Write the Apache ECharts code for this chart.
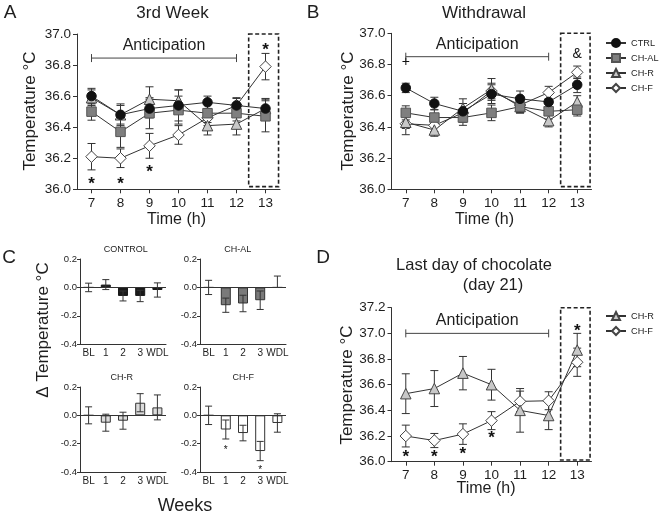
<!DOCTYPE html>
<html><head><meta charset="utf-8">
<script src="https://cdn.jsdelivr.net/npm/echarts@6/dist/echarts.min.js"></script>
<style>html,body{margin:0;padding:0;background:#fff}#c{width:659px;height:516px}</style>
</head><body><div id="c"></div>
<script>
// ---------------- DATA ----------------
const hours = [7, 8, 9, 10, 11, 12, 13];
const groupNames = ['CTRL', 'CH-AL', 'CH-R', 'CH-F'];
const anticipationLabel = 'Anticipation';
const anticipationRange = [7, 12];

// Panel A: 3rd Week (mean, SEM)
const a_CTRL = [36.60, 36.48, 36.52, 36.54, 36.56, 36.54, 36.52];
const a_CTRL_sem = [0.05, 0.07, 0.06, 0.10, 0.04, 0.045, 0.065];
const a_CHAL = [36.50, 36.37, 36.49, 36.51, 36.49, 36.49, 36.47];
const a_CHAL_sem = [0.055, 0.10, 0.10, 0.09, 0.06, 0.05, 0.10];
const a_CHR = [36.59, 36.48, 36.58, 36.57, 36.41, 36.42, 36.52];
const a_CHR_sem = [0.05, 0.06, 0.08, 0.07, 0.06, 0.07, 0.06];
const a_CHF = [36.21, 36.20, 36.28, 36.35, 36.46, 36.54, 36.79];
const a_CHF_sem = [0.085, 0.06, 0.08, 0.06, 0.05, 0.05, 0.085];
const a_notes = [[7, 36.06, '*'], [8, 36.06, '*'], [9, 36.135, '*'], [13, 36.92, '*']];

// Panel B: Withdrawal
const b_CTRL = [36.65, 36.55, 36.50, 36.61, 36.58, 36.56, 36.67];
const b_CTRL_sem = [0.03, 0.04, 0.05, 0.06, 0.05, 0.05, 0.05];
const b_CHAL = [36.49, 36.46, 36.46, 36.49, 36.53, 36.50, 36.51];
const b_CHAL_sem = [0.045, 0.05, 0.05, 0.05, 0.04, 0.05, 0.04];
const b_CHR = [36.43, 36.38, 36.52, 36.64, 36.53, 36.44, 36.56];
const b_CHR_sem = [0.04, 0.04, 0.06, 0.07, 0.04, 0.04, 0.04];
const b_CHF = [36.42, 36.41, 36.49, 36.63, 36.54, 36.62, 36.75];
const b_CHF_sem = [0.07, 0.04, 0.06, 0.05, 0.05, 0.04, 0.04];
const b_notes = [[7, 36.815, '+'], [13, 36.865, '&']];

// Panel C: delta temperature by week
const weeks = ['BL', '1', '2', '3', 'WDL'];
const c_CONTROL = [0, 0.02, -0.06, -0.06, -0.018];
const c_CONTROL_hi = [0.03, 0.035, 0.035, 0.04, 0.05];
const c_CONTROL_lo = [0.03, 0.035, 0.035, 0.04, 0.05];
const c_CHAL = [0, -0.125, -0.113, -0.09, 0];
const c_CHAL_hi = [0.05, 0.05, 0.058, 0.065, 0.08];
const c_CHAL_lo = [0.05, 0.05, 0.058, 0.065, 0];
const c_CHR = [0, -0.052, -0.038, 0.089, 0.056];
const c_CHR_hi = [0.06, 0.06, 0.06, 0.064, 0.088];
const c_CHR_lo = [0.06, 0.06, 0.06, 0.064, 0.088];
const c_CHF = [0, -0.1, -0.125, -0.252, -0.054];
const c_CHF_hi = [0.065, 0.067, 0.055, 0.068, 0.065];
const c_CHF_lo = [0.065, 0.067, 0.055, 0.068, 0.065];
const c_CHF_notes = [[1, -0.23, '*'], [3, -0.37, '*']];
const c_titles = ['CONTROL', 'CH-AL', 'CH-R', 'CH-F'];

// Panel D: Last day of chocolate (day 21)
const d_CHR = [36.53, 36.57, 36.69, 36.60, 36.40, 36.36, 36.87];
const d_CHR_sem = [0.155, 0.14, 0.13, 0.12, 0.17, 0.11, 0.13];
const d_CHF = [36.20, 36.165, 36.215, 36.32, 36.47, 36.475, 36.775];
const d_CHF_sem = [0.085, 0.055, 0.08, 0.07, 0.08, 0.07, 0.11];
const d_notes = [[7, 36.065, '*'], [8, 36.065, '*'], [9, 36.085, '*'], [10, 36.21, '*'], [13, 37.05, '*']];

// ---------------- STYLE ----------------
const FF = '"Liberation Sans", Arial, Helvetica, sans-serif';
const AX = '#333';
const TXT = '#1e1e1e';
const markerStyle = {
  'CTRL': {symbol: 'circle', size: 9.5, fill: '#111', border: '#111'},
  'CH-AL': {symbol: 'rect', size: 9.5, fill: '#7f7f7f', border: '#555'},
  'CH-R': {symbol: 'triangle', size: 10.5, fill: '#c8c8c8', border: '#444'},
  'CH-F': {symbol: 'diamond', size: 11.5, fill: '#ffffff', border: '#444'}
};

function fmt1(v) { return (Math.abs(v) < 1e-9 ? 0 : v).toFixed(1); }

function timeX(gi) {
  return {gridIndex: gi, type: 'value', min: 6.5, max: 13.5,
    axisLine: {onZero: false, lineStyle: {color: AX, width: 1}},
    axisTick: {length: 4, customValues: hours, lineStyle: {color: AX}},
    axisLabel: {customValues: hours, fontSize: 13.5, color: TXT, margin: 7, fontFamily: FF},
    splitLine: {show: false}};
}
function tempY(gi, max) {
  return {gridIndex: gi, type: 'value', min: 36, max: max, interval: 0.2,
    axisLine: {show: true, onZero: false, lineStyle: {color: AX, width: 1}},
    axisTick: {show: true, length: 4, lineStyle: {color: AX}},
    axisLabel: {fontSize: 13.5, color: TXT, margin: 6, fontFamily: FF, formatter: fmt1},
    splitLine: {show: false}};
}
function weekX(gi) {
  return {gridIndex: gi, type: 'category', data: weeks,
    axisLine: {onZero: false, lineStyle: {color: AX, width: 1}},
    axisTick: {show: false},
    axisLabel: {fontSize: 10, color: TXT, margin: 4, fontFamily: FF, interval: 0},
    splitLine: {show: false}};
}
function deltaY(gi) {
  return {gridIndex: gi, type: 'value', min: -0.4, max: 0.2, interval: 0.2,
    axisLine: {show: true, onZero: false, lineStyle: {color: AX, width: 1}},
    axisTick: {show: true, length: 3, lineStyle: {color: AX}},
    axisLabel: {fontSize: 9.5, color: TXT, margin: 3, fontFamily: FF, formatter: fmt1},
    splitLine: {show: false}};
}

function errRenderer(cap) {
  return function (params, api) {
    const x = api.value(0), lo = api.value(1), hi = api.value(2);
    const t = api.coord([x, hi]), b = api.coord([x, lo]);
    const st = {stroke: '#333', lineWidth: 1, fill: null};
    const ch = [{type: 'line', shape: {x1: t[0], y1: t[1], x2: b[0], y2: b[1]}, style: st},
      {type: 'line', shape: {x1: t[0] - cap, y1: t[1], x2: t[0] + cap, y2: t[1]}, style: st}];
    if (api.value(3) !== 0) ch.push({type: 'line', shape: {x1: b[0] - cap, y1: b[1], x2: b[0] + cap, y2: b[1]}, style: st});
    return {type: 'group', children: ch};
  };
}
function errSeries(gi, vals, sems, cap) {
  return {type: 'custom', xAxisIndex: gi, yAxisIndex: gi, silent: true, z: 2, animation: false,
    renderItem: errRenderer(cap),
    data: vals.map((v, i) => [hours[i], v - sems[i], v + sems[i], 1])};
}
function barErrSeries(gi, vals, hi, lo) {
  return {type: 'custom', xAxisIndex: gi, yAxisIndex: gi, silent: true, z: 4, animation: false,
    renderItem: errRenderer(3.5),
    data: vals.map((v, i) => [i, v - lo[i], v + hi[i], lo[i]])};
}
function lineSeries(name, gi, vals, extra) {
  const s = markerStyle[name];
  return Object.assign({type: 'line', name: name, xAxisIndex: gi, yAxisIndex: gi,
    data: vals.map((v, i) => [hours[i], v]),
    symbol: s.symbol, symbolSize: s.size, showSymbol: true, animation: false,
    itemStyle: {color: s.fill, borderColor: s.border, borderWidth: 1},
    lineStyle: {color: '#333', width: 1}, z: 3}, extra || {});
}
function boxArea(y0, y1) {
  return {silent: true, label: {show: false},
    itemStyle: {color: 'rgba(0,0,0,0)', borderColor: '#222', borderWidth: 1.6, borderType: [4, 2.5]},
    data: [[{coord: [12.42, y0]}, {coord: [13.45, y1]}]]};
}
function bracketSeries(gi, yLine, yText) {
  return {type: 'custom', xAxisIndex: gi, yAxisIndex: gi, silent: true, z: 2, animation: false,
    data: [[anticipationRange[0], anticipationRange[1], yLine, yText]],
    renderItem: function (p, api) {
      const a = api.coord([api.value(0), api.value(2)]), b = api.coord([api.value(1), api.value(2)]);
      const t = api.coord([(api.value(0) + api.value(1)) / 2, api.value(3)]);
      const st = {stroke: '#444', lineWidth: 1, fill: null};
      return {type: 'group', children: [
        {type: 'line', shape: {x1: a[0], y1: a[1], x2: b[0], y2: b[1]}, style: st},
        {type: 'line', shape: {x1: a[0], y1: a[1] - 4, x2: a[0], y2: a[1] + 4}, style: st},
        {type: 'line', shape: {x1: b[0], y1: b[1] - 4, x2: b[0], y2: b[1] + 4}, style: st},
        {type: 'text', x: t[0], y: t[1], style: {text: anticipationLabel, fontSize: 16, fontFamily: FF, fill: TXT, align: 'center', verticalAlign: 'middle'}}
      ]};
    }};
}
function noteSeries(gi, notes, fs, dy, bold) {
  return {type: 'custom', xAxisIndex: gi, yAxisIndex: gi, silent: true, z: 6, animation: false,
    data: notes.map((n, i) => [n[0], n[1], i]),
    renderItem: function (p, api) {
      const c = api.coord([api.value(0), api.value(1)]);
      return {type: 'text', x: c[0], y: c[1] + dy,
        style: {text: notes[p.dataIndex][2], fontSize: fs, fontWeight: bold ? 'bold' : 'normal', fontFamily: FF, fill: '#111', align: 'center', verticalAlign: 'middle'}};
    }};
}
function barSeries(gi, vals, fill, border) {
  return {type: 'bar', xAxisIndex: gi, yAxisIndex: gi, data: vals, barWidth: 10, animation: false, z: 3,
    itemStyle: {color: fill, borderColor: border, borderWidth: 1},
    markLine: {silent: true, symbol: 'none', label: {show: false}, lineStyle: {color: AX, width: 1, type: 'solid'},
      data: [{yAxis: 0}]}};
}
function txt(x, y, s, fs, rot) {
  return {type: 'text', x: x, y: y, rotation: rot || 0,
    style: {text: s, fontSize: fs, fontFamily: FF, fill: TXT, align: 'center', verticalAlign: 'middle'}};
}

// ---------------- OPTION ----------------
const grids = [
  {left: 77, top: 34, width: 203, height: 155.3},     // A
  {left: 391.5, top: 33.3, width: 200, height: 156},  // B
  {left: 80, top: 259, width: 86, height: 85.3},      // C CONTROL
  {left: 200, top: 259, width: 86, height: 85.3},     // C CH-AL
  {left: 80, top: 387, width: 86, height: 85},        // C CH-R
  {left: 200, top: 387, width: 86, height: 85},       // C CH-F
  {left: 391.5, top: 307.7, width: 200, height: 154}  // D
];

const series = [
  // A
  errSeries(0, a_CHF, a_CHF_sem, 4), errSeries(0, a_CHR, a_CHR_sem, 4), errSeries(0, a_CHAL, a_CHAL_sem, 4), errSeries(0, a_CTRL, a_CTRL_sem, 4),
  lineSeries('CH-F', 0, a_CHF), lineSeries('CH-R', 0, a_CHR), lineSeries('CH-AL', 0, a_CHAL),
  lineSeries('CTRL', 0, a_CTRL, {markArea: boxArea(37.0, 36.017)}),
  bracketSeries(0, 36.845, 36.925), noteSeries(0, a_notes, 17, 4, true),
  // B
  errSeries(1, b_CHF, b_CHF_sem, 4), errSeries(1, b_CHR, b_CHR_sem, 4), errSeries(1, b_CHAL, b_CHAL_sem, 4), errSeries(1, b_CTRL, b_CTRL_sem, 4),
  lineSeries('CH-F', 1, b_CHF), lineSeries('CH-R', 1, b_CHR), lineSeries('CH-AL', 1, b_CHAL),
  lineSeries('CTRL', 1, b_CTRL, {markArea: boxArea(37.0, 36.017)}),
  bracketSeries(1, 36.85, 36.925), noteSeries(1, b_notes, 14, 0, false),
  // C
  barSeries(2, c_CONTROL, '#1a1a1a', '#1a1a1a'), barErrSeries(2, c_CONTROL, c_CONTROL_hi, c_CONTROL_lo),
  barSeries(3, c_CHAL, '#7a7a7a', '#333'), barErrSeries(3, c_CHAL, c_CHAL_hi, c_CHAL_lo),
  barSeries(4, c_CHR, '#dcdcdc', '#333'), barErrSeries(4, c_CHR, c_CHR_hi, c_CHR_lo),
  barSeries(5, c_CHF, '#ffffff', '#333'), barErrSeries(5, c_CHF, c_CHF_hi, c_CHF_lo),
  noteSeries(5, c_CHF_notes, 10, 2, false),
  // D
  errSeries(6, d_CHF, d_CHF_sem, 4), errSeries(6, d_CHR, d_CHR_sem, 4),
  lineSeries('CH-F', 6, d_CHF), lineSeries('CH-R', 6, d_CHR, {markArea: boxArea(37.215, 36.013)}),
  bracketSeries(6, 37.0, 37.1), noteSeries(6, d_notes, 17, 4, true)
];

const option = {
  animation: false,
  backgroundColor: '#fff',
  textStyle: {fontFamily: FF},
  grid: grids,
  xAxis: [timeX(0), timeX(1), weekX(2), weekX(3), weekX(4), weekX(5), timeX(6)],
  yAxis: [tempY(0, 37), tempY(1, 37), deltaY(2), deltaY(3), deltaY(4), deltaY(5), tempY(6, 37.2)],
  legend: [
    {data: groupNames, orient: 'vertical', left: 605, top: 38, padding: 0, itemGap: 5,
      itemWidth: 20, itemHeight: 10, width: 54, textStyle: {fontSize: 9.2, color: TXT, fontFamily: FF, width: 40, overflow: 'none'}, selectedMode: false},
    {data: ['CH-R', 'CH-F'], orient: 'vertical', left: 605, top: 311, padding: 0, itemGap: 5,
      itemWidth: 20, itemHeight: 10, width: 54, textStyle: {fontSize: 9.2, color: TXT, fontFamily: FF, width: 40, overflow: 'none'}, selectedMode: false}
  ],
  series: series,
  graphic: [
    txt(10, 13, 'A', 19), txt(313, 13, 'B', 19), txt(9, 258, 'C', 19), txt(323, 258, 'D', 19),
    txt(172.5, 13.5, '3rd Week', 17), txt(484, 13.5, 'Withdrawal', 17),
    txt(474, 265, 'Last day of chocolate', 16.5), txt(493, 285, '(day 21)', 16.5),
    txt(30, 111, 'Temperature °C', 17, Math.PI / 2), txt(348, 111, 'Temperature °C', 17, Math.PI / 2),
    txt(347.5, 385, 'Temperature °C', 17, Math.PI / 2), txt(43, 330, 'Δ Temperature °C', 17, Math.PI / 2),
    txt(176.5, 220, 'Time (h)', 16), txt(484.5, 220, 'Time (h)', 16), txt(486, 488.5, 'Time (h)', 16),
    txt(185, 506.5, 'Weeks', 18),
    txt(125.7, 249.5, c_titles[0], 9), txt(237.7, 249.5, c_titles[1], 9),
    txt(121.7, 377.7, c_titles[2], 9), txt(243.3, 377.7, c_titles[3], 9)
  ]
};

const chart = echarts.init(document.getElementById('c'), null, {renderer: 'canvas', width: 659, height: 516});
chart.setOption(option);
</script>
</body></html>
